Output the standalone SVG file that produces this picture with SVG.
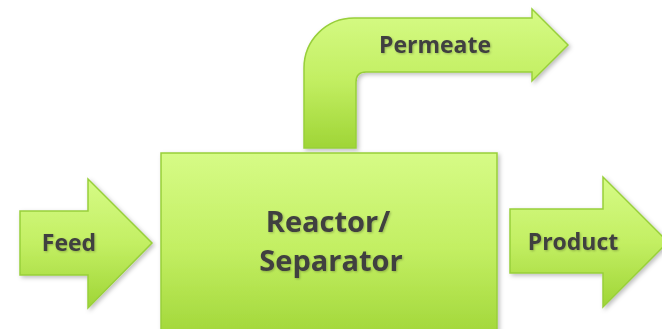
<svg xmlns="http://www.w3.org/2000/svg" width="662" height="329" viewBox="0 0 662 329">
<defs>
<linearGradient id="g" x1="0" y1="0" x2="0" y2="1">
<stop offset="0" stop-color="#d6fb86"/>
<stop offset="0.5" stop-color="#c3ef63"/>
<stop offset="1" stop-color="#9fd536"/>
</linearGradient>
<filter id="sh" x="-10%" y="-10%" width="125%" height="125%">
<feDropShadow dx="2" dy="2" stdDeviation="2" flood-color="#000" flood-opacity="0.25"/>
</filter>
<filter id="ts" x="-5%" y="-5%" width="115%" height="130%">
<feDropShadow dx="1" dy="1" stdDeviation="0.8" flood-color="#000" flood-opacity="0.25"/>
</filter>
</defs>
<style>
.s{fill:url(#g);stroke:#98cf3a;stroke-width:1.5;filter:url(#sh)}
.t{font-family:"Open Sans","Liberation Sans",sans-serif;font-weight:bold;fill:#404040;text-anchor:middle;filter:url(#ts)}
</style>
<rect width="662" height="329" fill="#ffffff"/>
<g id="connectors">
<g id="permeate">
<path class="s" d="M304,148 L304,68 A50,50 0 0 1 354,18 L532,18 L532,9 L568,45 L532,81 L532,72 L366,72 Q356,72 356,82 L356,148 Z"/>
<text class="t" x="435" y="53" font-size="23">Permeate</text>
</g>
<g id="feed">
<path class="s" d="M20,211 L88,211 L88,179 L152,243 L88,308 L88,275 L20,275 Z"/>
<text class="t" x="69" y="251" font-size="23">Feed</text>
</g>
<g id="product">
<path class="s" d="M510,209 L603,209 L603,177 L668,242 L603,307 L603,273 L510,273 Z"/>
<text class="t" x="573" y="250" font-size="23">Product</text>
</g>
</g>
<g id="reactor">
<rect class="s" x="161" y="153" width="336" height="190"/>
<text class="t" font-size="29"><tspan x="328" y="232">Reactor/</tspan><tspan x="331" y="271">Separator</tspan></text>
</g>
</svg>
